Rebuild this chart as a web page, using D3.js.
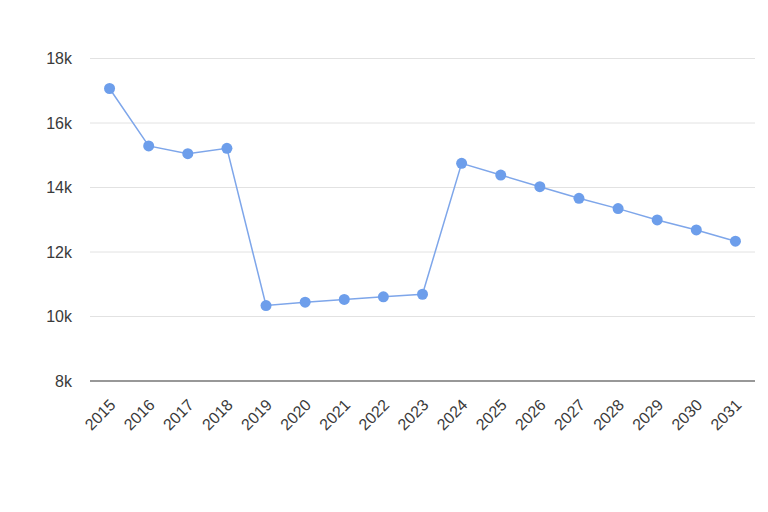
<!DOCTYPE html>
<html>
<head>
<meta charset="utf-8">
<script src="https://cdn.jsdelivr.net/npm/d3@7"></script>
<style>
  body { margin: 0; background: #fff; }
  text { font-family: "Liberation Sans", Arial, sans-serif; }
</style>
</head>
<body>
<svg id="chart" width="768" height="512"></svg>
<script>
// chart data
const years = ['2015', '2016', '2017', '2018', '2019', '2020', '2021', '2022', '2023',
    '2024', '2025', '2026', '2027', '2028', '2029', '2030', '2031'];
const values = [17070, 15290, 15050, 15215, 10340, 10445, 10530, 10610, 10690,
    14750, 14385, 14025, 13665, 13345, 12995, 12685, 12335];
const yTicks = [8000, 10000, 12000, 14000, 16000, 18000];

const svg = d3.select('#chart');
const plotL = 90, plotR = 755, plotT = 58.5, plotB = 381;

const x = d3.scalePoint().domain(years).range([plotL, plotR]).padding(0.5);
const y = d3.scaleLinear().domain([8000, 18000]).range([plotB, plotT]);

// gridlines
svg.append('g')
    .selectAll('line')
    .data(yTicks.slice(1))
    .enter()
    .append('line')
    .attr('x1', plotL).attr('x2', plotR)
    .attr('y1', d => y(d)).attr('y2', d => y(d))
    .attr('stroke', '#e2e2e2')
    .attr('stroke-width', 1);

// y labels
svg.append('g')
    .selectAll('text')
    .data(yTicks)
    .enter()
    .append('text')
    .attr('x', 72)
    .attr('y', d => y(d))
    .attr('dy', '0.36em')
    .attr('text-anchor', 'end')
    .attr('font-size', '16px')
    .attr('fill', '#3a3a3a')
    .text(d => (d / 1000) + 'k');

// baseline
svg.append('line')
    .attr('x1', plotL).attr('x2', plotR)
    .attr('y1', y(8000)).attr('y2', y(8000))
    .attr('stroke', '#333')
    .attr('stroke-width', 1.2);

// x labels, rotated
svg.append('g')
    .selectAll('text')
    .data(years)
    .enter()
    .append('text')
    .attr('transform', d => `translate(${x(d) + 7},${406}) rotate(-45)`)
    .attr('text-anchor', 'end')
    .attr('font-size', '16px')
    .attr('fill', '#3a3a3a')
    .text(d => d);

const line = d3.line()
    .x((d, i) => x(years[i]))
    .y(d => y(d));

svg.append('path')
    .datum(values)
    .attr('d', line)
    .attr('fill', 'none')
    .attr('stroke', '#7ea6ea')
    .attr('stroke-width', 1.5);

svg.append('g')
    .selectAll('circle')
    .data(values)
    .enter()
    .append('circle')
    .attr('cx', (d, i) => x(years[i]))
    .attr('cy', d => y(d))
    .attr('r', 5.5)
    .attr('fill', '#6d9eeb');
</script>
</body>
</html>
